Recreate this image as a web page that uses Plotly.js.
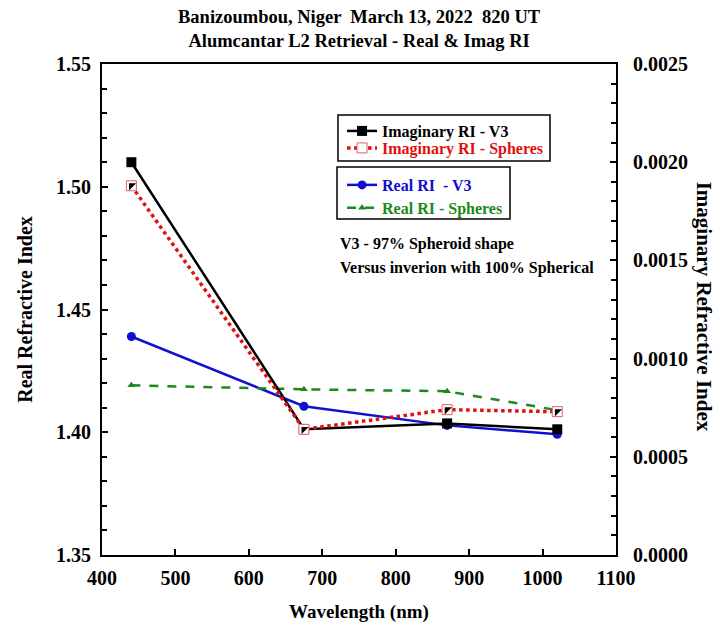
<!DOCTYPE html>
<html><head><meta charset="utf-8">
<script src="https://cdn.plot.ly/plotly-3.0.1.min.js"></script>
<style>body{margin:0;background:#fff}</style>
</head><body><div id="c" style="width:719px;height:627px"></div>
<script>
const wavelengths = [440, 675, 870, 1020];
const imagV3 = [0.00200, 0.00064, 0.00067, 0.00064];
const imagSph = [0.00188, 0.00064, 0.00074, 0.00073];
const realV3 = [1.439, 1.4106, 1.4028, 1.3992];
const realSph = [1.4191, 1.4175, 1.4167, 1.409];

const F = "Liberation Serif";
const traces = [
  {x: wavelengths, y: imagV3, yaxis: 'y2', name: '<b>Imaginary RI - V3</b>', legend: 'legend',
   mode: 'lines+markers', line: {color: '#000', width: 2.5}, marker: {symbol: 'square', size: 10, color: '#000'}},
  {x: wavelengths, y: imagSph, yaxis: 'y2', name: '<b>Imaginary RI - Spheres</b>', legend: 'legend2',
   mode: 'lines+markers', line: {color: '#e01010', width: 3.5, dash: 'dot'},
   marker: {symbol: 'square', size: 10, color: '#fff', line: {color: '#e06060', width: 1}}},
  {x: wavelengths, y: imagSph, yaxis: 'y2', showlegend: false, hoverinfo: 'skip',
   mode: 'markers', marker: {symbol: 'triangle-nw', size: 8, color: '#000'}},
  {x: wavelengths, y: realV3, name: '<b>Real RI  - V3</b>', legend: 'legend3',
   mode: 'lines+markers', line: {color: '#1010d0', width: 2.5}, marker: {symbol: 'circle', size: 9, color: '#1010d0'}},
  {x: wavelengths, y: realSph, name: '<b>Real RI - Spheres</b>', legend: 'legend4',
   mode: 'lines+markers', line: {color: '#1a8a1a', width: 2.5, dash: 'dash'}, marker: {symbol: 'triangle-up', size: 7, color: '#1a8a1a'}}
];

const tickFont = {family: F, size: 20, color: '#000', weight: 'bold'};
function leg(y, color) {
  return {x: 0.467, y: y, xanchor: 'left', yanchor: 'middle', borderwidth: 0, bgcolor: 'rgba(0,0,0,0)',
          font: {family: F, size: 16, color: color}, itemwidth: 30};
}
const layout = {
  width: 719, height: 627,
  margin: {l: 102, r: 103, t: 64, b: 72},
  paper_bgcolor: '#fff', plot_bgcolor: '#fff',
  font: {family: F, color: '#000'},
  xaxis: {range: [400, 1100], dtick: 100, tick0: 400, showline: true, linecolor: '#000', linewidth: 2, mirror: true,
          ticks: 'inside', ticklen: 6, tickwidth: 1.5, tickcolor: '#000', showgrid: false, zeroline: false,
          tickfont: tickFont, ticklabelstandoff: 4,
          title: {text: '<b>Wavelength (nm)</b>', font: {family: F, size: 19, color: '#000'}, standoff: 17}},
  yaxis: {range: [1.35, 1.55], dtick: 0.05, tickformat: '.2f', showline: true, linecolor: '#000', linewidth: 2,
          ticks: 'inside', ticklen: 6, tickwidth: 1.5, tickcolor: '#000', showgrid: false, zeroline: false,
          minor: {dtick: 0.01, ticks: 'inside', ticklen: 5, tickwidth: 1.5, tickcolor: '#000', showgrid: false},
          tickfont: tickFont, ticklabelstandoff: 5,
          title: {text: '<b>Real Refractive Index</b>', font: {family: F, size: 20, color: '#000'}, standoff: 18}},
  yaxis2: {range: [0, 0.0025], dtick: 0.0005, tickformat: '.4f', overlaying: 'y', side: 'right',
           showline: true, linecolor: '#000', linewidth: 2,
           ticks: 'inside', ticklen: 6, tickwidth: 1.5, tickcolor: '#000', showgrid: false, zeroline: false,
           minor: {dtick: 0.0001, ticks: 'inside', ticklen: 5, tickwidth: 1.5, tickcolor: '#000', showgrid: false},
           tickfont: tickFont, ticklabelstandoff: 11},
  legend: leg(0.8635, '#000'),
  legend2: leg(0.8289, '#e01010'),
  legend3: leg(0.7536, '#1010d0'),
  legend4: leg(0.7068, '#1a8a1a'),
  shapes: [
    {type: 'rect', xref: 'paper', yref: 'paper', x0: 0.4591, x1: 0.8716, y0: 0.8023, y1: 0.8961,
     line: {color: '#000', width: 1.5}, fillcolor: '#fff', layer: 'above'},
    {type: 'rect', xref: 'paper', yref: 'paper', x0: 0.4572, x1: 0.7938, y0: 0.6843, y1: 0.7902,
     line: {color: '#000', width: 1.5}, fillcolor: '#fff', layer: 'above'}
  ],
  annotations: [
    {xref: 'paper', yref: 'paper', x: 0.5, y: 1.0703, xanchor: 'center', yanchor: 'middle', showarrow: false,
     text: '<b>Banizoumbou, Niger  March 13, 2022  820 UT<br>Alumcantar L2 Retrieval - Real &amp; Imag RI</b>',
     font: {family: F, size: 18.5, color: '#000'}},
    {xref: 'paper', yref: 'paper', x: 0.46, y: 0.6334, xanchor: 'left', yanchor: 'middle', align: 'left', showarrow: false,
     text: '<b>V3 - 97% Spheroid shape</b>', font: {family: F, size: 16, color: '#000'}},
    {xref: 'paper', yref: 'paper', x: 0.46, y: 0.5845, xanchor: 'left', yanchor: 'middle', align: 'left', showarrow: false,
     text: '<b>Versus inverion with 100% Spherical</b>', font: {family: F, size: 16, color: '#000'}},
    {xref: 'paper', yref: 'paper', x: 1.172, y: 0.505, xanchor: 'center', yanchor: 'middle', textangle: 90, showarrow: false,
     text: '<b>Imaginary Refractive Index</b>', font: {family: F, size: 21, color: '#000'}}
  ],
  showlegend: true
};
Plotly.newPlot('c', traces, layout, {displayModeBar: false});
</script></body></html>
